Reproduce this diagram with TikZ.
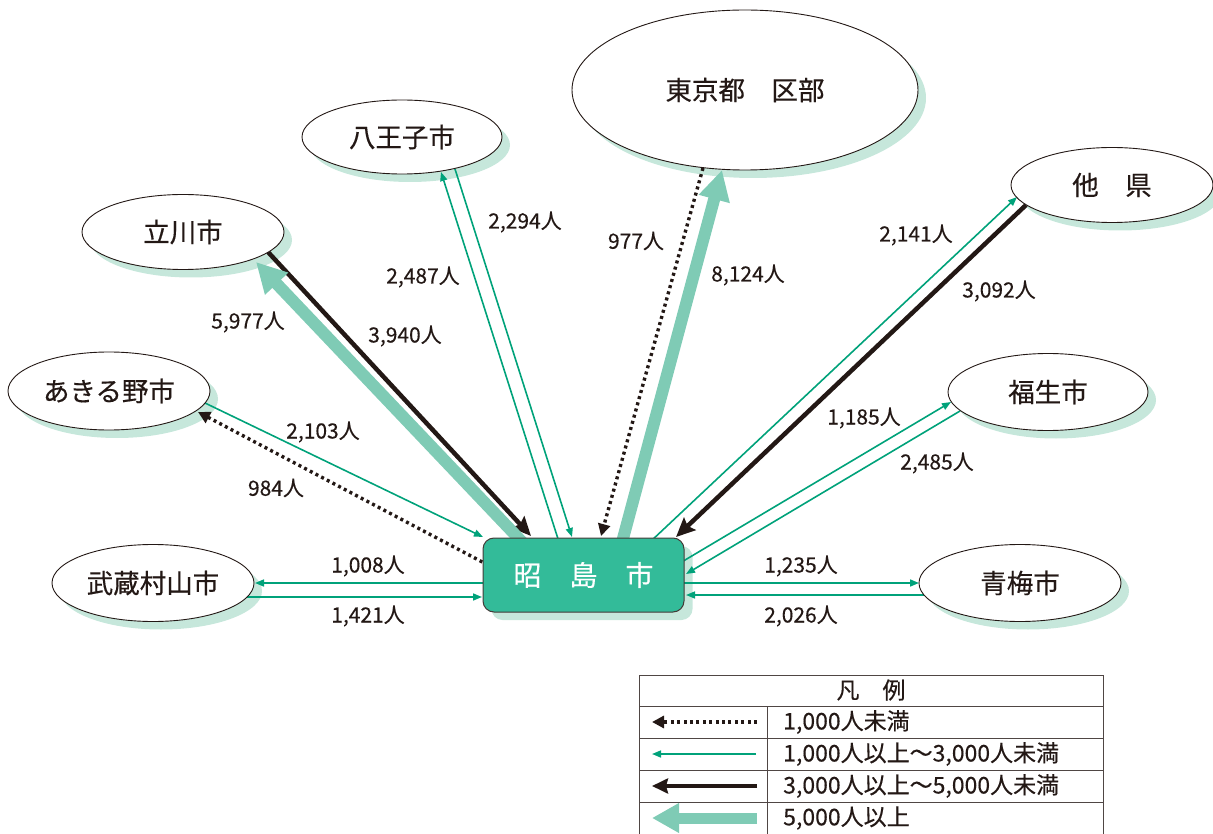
\documentclass[tikz,border=0pt]{standalone}
\usepackage{fontspec}
\setmainfont{Noto Sans CJK JP}[FakeBold=0.35]
\usetikzlibrary{arrows.meta,shapes.geometric}

\definecolor{ink}{HTML}{231815}
\definecolor{boxgreen}{HTML}{33BB99}
\definecolor{mint}{HTML}{C6E7DB}
\definecolor{flowgreen}{HTML}{00A27A}
\definecolor{heavygreen}{HTML}{7FCBB5}

\pgfdeclarelayer{background}
\pgfdeclarelayer{foreground}
\pgfsetlayers{background,main,foreground}

% place ellipse with its offset shadow: name, x, y, width, height, label
\newcommand\placenode[6]{%
  \begin{pgfonlayer}{background}
    \node[placeshadow, minimum width=#4pt, minimum height=#5pt] (#1-shadow) at (#2+8,#3+8) {};
  \end{pgfonlayer}
  \begin{pgfonlayer}{foreground}
    \node[place, minimum width=#4pt, minimum height=#5pt] (#1) at (#2,#3) {#6};
  \end{pgfonlayer}}

\begin{document}
\begin{tikzpicture}[x=1pt, y=-1pt,
  place/.style={ellipse, draw=ink, line width=0.9pt, fill=white, inner sep=0pt,
    font=\fontsize{26.5}{26.5}\selectfont, text=ink},
  placeshadow/.style={ellipse, fill=mint, draw=none, inner sep=0pt},
  hub/.style={draw=ink!85, line width=1pt, fill=boxgreen, rounded corners=11pt,
    minimum width=201pt, minimum height=74pt, inner sep=0pt, text=white,
    font=\fontsize{28}{28}\selectfont},
  hubshadow/.style={fill=mint, draw=none, rounded corners=11pt,
    minimum width=201pt, minimum height=74pt, inner sep=0pt},
  count/.style={font=\fontsize{21}{21}\selectfont, text=ink, inner sep=0pt},
  keytext/.style={font=\fontsize{23}{23}\selectfont, text=ink, inner sep=0pt, anchor=west},
  lightflow/.style={draw=flowgreen, line width=1.6pt,
    -{Triangle[length=9pt,width=7pt]}},
  midflow/.style={draw=ink, line width=4.5pt,
    -{Stealth[length=19pt,width=17pt,inset=3pt]}},
  smallflow/.style={draw=ink, line width=3.4pt, dash pattern=on 3pt off 3.4pt,
    -{Triangle[length=12pt,width=12pt]}},
  heavyflow/.style={draw=heavygreen, line width=12pt,
    -{Triangle[length=30pt,width=30pt]}},
  rule/.style={draw=ink!80, line width=1pt}
]
\useasboundingbox (0,0) rectangle (1213,834);

% ---------- places ----------
\placenode{kubu}{745}{90}{346}{160}{東京都　区部}
\placenode{hachioji}{402}{137}{200}{74}{八王子市}
\placenode{tachikawa}{183}{232}{202}{75}{立川市}
\placenode{akiruno}{109}{391}{202}{78}{あきる野市}
\placenode{musashi}{153}{583}{202}{77}{武蔵村山市}
\placenode{taken}{1112}{185}{202}{75}{他　県}
\placenode{fussa}{1048}{392}{200}{77}{福生市}
\placenode{ome}{1020}{583}{202}{77}{青梅市}

% ---------- Akishima ----------
\begin{pgfonlayer}{background}
  \node[hubshadow] (akishima-shadow) at (592,583) {};
\end{pgfonlayer}
\begin{pgfonlayer}{foreground}
  \node[hub] (akishima) at (583.5,575) {昭　島　市};
\end{pgfonlayer}

% ---------- connector end points ----------
\coordinate (ta1) at (268,252);   \coordinate (ta2) at (531,536);
\coordinate (ta3) at (524,544);   \coordinate (ta4) at (256,262);
\coordinate (ha1) at (559,542);   \coordinate (ha2) at (441,172);
\coordinate (ha3) at (455,169);   \coordinate (ha4) at (572,537);
\coordinate (ku1) at (703,168);   \coordinate (ku2) at (601,536);
\coordinate (ku3) at (621,546);   \coordinate (ku4) at (722,170);
\coordinate (tk1) at (650,542);   \coordinate (tk2) at (1017,197);
\coordinate (tk3) at (1026,205);  \coordinate (tk4) at (676,537);
\coordinate (fu1) at (680,563);   \coordinate (fu2) at (951,402);
\coordinate (fu3) at (960,411);   \coordinate (fu4) at (686,574);
\coordinate (om1) at (680,583);   \coordinate (om2) at (919,583);
\coordinate (om3) at (924,595);   \coordinate (om4) at (686,595);
\coordinate (mu1) at (488,583);   \coordinate (mu2) at (255,583);
\coordinate (mu3) at (247,597);   \coordinate (mu4) at (482,597);
\coordinate (ak1) at (205,403);   \coordinate (ak2) at (483,537);
\coordinate (ak3) at (488,565);   \coordinate (ak4) at (198,412);

% ---------- flows ----------
\draw[midflow]   (ta1) -- (ta2);
\draw[heavyflow] (ta3) -- (ta4);
\draw[lightflow] (ha1) -- (ha2);
\draw[lightflow] (ha3) -- (ha4);
\draw[smallflow] (ku1) -- (ku2);
\draw[heavyflow] (ku3) -- (ku4);
\draw[lightflow] (tk1) -- (tk2);
\draw[midflow]   (tk3) -- (tk4);
\draw[lightflow] (fu1) -- (fu2);
\draw[lightflow] (fu3) -- (fu4);
\draw[lightflow] (om1) -- (om2);
\draw[lightflow] (om3) -- (om4);
\draw[lightflow] (mu1) -- (mu2);
\draw[lightflow] (mu3) -- (mu4);
\draw[lightflow] (ak1) -- (ak2);
\draw[smallflow] (ak3) -- (ak4);

% ---------- counts ----------
\node[count] (c2294) at (525,222) {2,294人};
\node[count] (c977)  at (636,241) {977人};
\node[count] (c2487) at (423,277) {2,487人};
\node[count] (c8124) at (748,275) {8,124人};
\node[count] (c5977) at (248,322) {5,977人};
\node[count] (c3940) at (405,336) {3,940人};
\node[count] (c2103) at (323,432) {2,103人};
\node[count] (c984)  at (276,488) {984人};
\node[count] (c2141) at (916,235) {2,141人};
\node[count] (c3092) at (999,291) {3,092人};
\node[count] (c1185) at (864,418) {1,185人};
\node[count] (c2485) at (937,463) {2,485人};
\node[count] (c1008) at (368,566) {1,008人};
\node[count] (c1421) at (368,616) {1,421人};
\node[count] (c1235) at (801,566) {1,235人};
\node[count] (c2026) at (801,616) {2,026人};

% ---------- legend ----------
\draw[rule] (639,675) rectangle (1103,840);
\draw[rule] (639,706) -- (1103,706);
\draw[rule] (639,738) -- (1103,738);
\draw[rule] (639,770) -- (1103,770);
\draw[rule] (639,802) -- (1103,802);
\draw[rule] (767,706) -- (767,840);
\node[font=\fontsize{23}{23}\selectfont, text=ink, inner sep=0pt] (keyhead) at (871,690) {凡　例};

\coordinate (k1a) at (757,722); \coordinate (k1b) at (652,722);
\coordinate (k2a) at (756,754); \coordinate (k2b) at (652,754);
\coordinate (k3a) at (757,786); \coordinate (k3b) at (652,786);
\coordinate (k4a) at (757,818); \coordinate (k4b) at (652,818);
\draw[smallflow] (k1a) -- (k1b);
\draw[lightflow] (k2a) -- (k2b);
\draw[midflow, -{Stealth[length=16pt,width=15pt,inset=2pt]}] (k3a) -- (k3b);
\draw[heavyflow, line width=11pt, -{Triangle[length=27pt,width=28pt]}] (k4a) -- (k4b);

\node[keytext] (key1) at (783,722) {1,000人未満};
\node[keytext] (key2) at (783,754) {1,000人以上～3,000人未満};
\node[keytext] (key3) at (783,786) {3,000人以上～5,000人未満};
\node[keytext] (key4) at (783,818) {5,000人以上};
\end{tikzpicture}
\end{document}
